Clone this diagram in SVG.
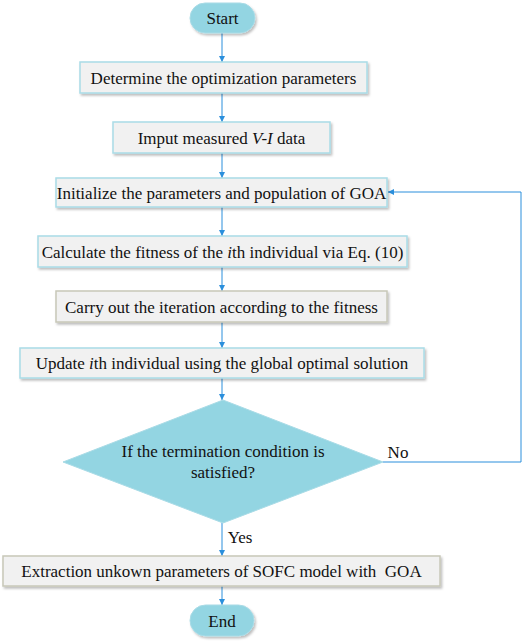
<svg xmlns="http://www.w3.org/2000/svg" width="526" height="641" viewBox="0 0 526 641">
<defs>
<filter id="sh" x="-5%" y="-20%" width="110%" height="150%">
<feDropShadow dx="1.5" dy="2" stdDeviation="1.2" flood-color="#000" flood-opacity="0.25"/>
</filter>
<marker id="ah" viewBox="0 0 10 10" refX="10" refY="5" markerWidth="6" markerHeight="6" markerUnits="userSpaceOnUse" orient="auto">
<path d="M0,0 L10,5 L0,10 z" fill="#2b8fdc"/>
</marker>
</defs>
<style>
text{font-family:'Liberation Serif','DejaVu Serif',serif;font-size:17px;fill:#111;text-anchor:middle;white-space:pre}
.box{fill:#f1f1f1;stroke:#a9dbe6;stroke-width:1.5}
.boxg{fill:#f1f1f1;stroke:#c7c7b8;stroke-width:1.5}
.term{fill:#93d5e2;stroke:#a9dbe6;stroke-width:1}
.dia{fill:#93d5e2;stroke:#a9dbe6;stroke-width:1}
.c{fill:none;stroke:#2b8fdc;stroke-width:1}
.fb{fill:none;stroke:#2b8fdc;stroke-width:1}
</style>
<g id="connectors" font-family="Liberation Serif, serif">
<line class="c" x1="222" y1="33" x2="222" y2="62" marker-end="url(#ah)"/>
<line class="c" x1="222" y1="93" x2="222" y2="122" marker-end="url(#ah)"/>
<line class="c" x1="222" y1="153" x2="222" y2="178" marker-end="url(#ah)"/>
<line class="c" x1="222" y1="207" x2="222" y2="236" marker-end="url(#ah)"/>
<line class="c" x1="222" y1="267" x2="222" y2="291" marker-end="url(#ah)"/>
<line class="c" x1="222" y1="322" x2="222" y2="348" marker-end="url(#ah)"/>
<line class="c" x1="222" y1="378" x2="222" y2="400" marker-end="url(#ah)"/>
<line class="c" x1="222" y1="523" x2="222" y2="556" marker-end="url(#ah)"/>
<line class="c" x1="222" y1="586" x2="222" y2="605" marker-end="url(#ah)"/>
<polyline class="fb" points="383,462 521,462 521,192 388,192" marker-end="url(#ah)"/>
<text x="398" y="458">No</text>
<text x="240" y="543">Yes</text>
</g>
<g id="start">
<rect class="term" x="190" y="3" width="65" height="30" rx="15" filter="url(#sh)"/>
<text x="222.5" y="24">Start</text>
</g>
<g id="n1">
<rect class="box" x="80" y="62" width="287" height="31" filter="url(#sh)"/>
<text x="223.5" y="83.5">Determine the optimization parameters</text>
</g>
<g id="n2">
<rect class="box" x="113" y="122" width="217" height="31" filter="url(#sh)"/>
<text x="221.5" y="143.5">Imput measured <tspan font-style="italic">V-I</tspan> data</text>
</g>
<g id="n3">
<rect class="box" x="56" y="178" width="331" height="29" filter="url(#sh)"/>
<text x="221.5" y="198.5">Initialize the parameters and population of GOA</text>
</g>
<g id="n4">
<rect class="box" x="38" y="236" width="369" height="31" filter="url(#sh)"/>
<text x="222.5" y="257.5">Calculate the fitness of the <tspan font-style="italic">i</tspan>th individual via Eq. (10)</text>
</g>
<g id="n5">
<rect class="boxg" x="56" y="291" width="331" height="31" filter="url(#sh)"/>
<text x="221.5" y="312.5">Carry out the iteration according to the fitness</text>
</g>
<g id="n6">
<rect class="box" x="20" y="348" width="404" height="30" filter="url(#sh)"/>
<text x="222" y="369">Update <tspan font-style="italic">i</tspan>th individual using the global optimal solution</text>
</g>
<g id="decision">
<polygon class="dia" points="223,400 383,462 223,523 63,462"/>
<text x="223" y="457">If the termination condition is</text>
<text x="223" y="478">satisfied?</text>
</g>
<g id="n7">
<rect class="boxg" x="3" y="556" width="437" height="30" filter="url(#sh)"/>
<text x="221.5" y="577">Extraction unkown parameters of SOFC model with  GOA</text>
</g>
<g id="end">
<rect class="term" x="190" y="605" width="64" height="31" rx="15.5" filter="url(#sh)"/>
<text x="222" y="626.5">End</text>
</g>
</svg>
